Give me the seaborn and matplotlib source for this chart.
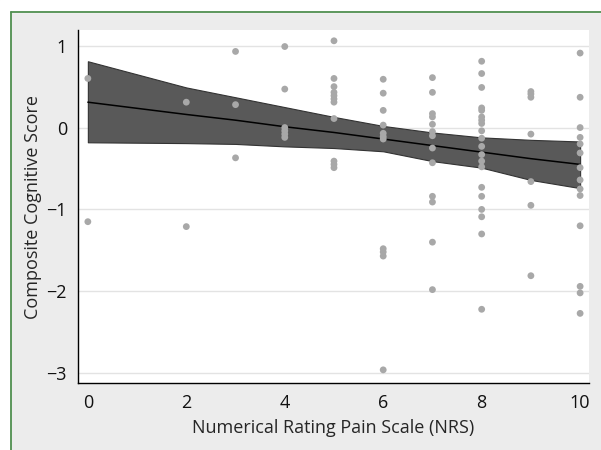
import numpy as np
import pandas as pd
import matplotlib
matplotlib.use("Agg")
import matplotlib.pyplot as plt
from matplotlib.lines import Line2D
import seaborn as sns

# NRS pain score per subject and the composite cognitive score
nrs = ([0] * 2 + [2] * 2 + [3] * 3 + [4] * 6 + [5] * 11 + [6] * 11
       + [7] * 13 + [8] * 20 + [9] * 7 + [10] * 14)
cognitive = [
    0.60, -1.15,
    0.31, -1.21,
    0.93, 0.28, -0.37,
    0.99, 0.47, 0.00, -0.04, -0.08, -0.12,
    1.06, 0.60, 0.50, 0.43, 0.39, 0.35, 0.31, 0.11, -0.41, -0.45, -0.49,
    0.59, 0.42, 0.21, 0.03, -0.07, -0.11, -0.14, -1.48, -1.52, -1.57, -2.96,
    0.61, 0.43, 0.17, 0.13, 0.04, -0.05, -0.10, -0.25, -0.43, -0.84, -0.91, -1.40, -1.98,
    0.81, 0.66, 0.49, 0.24, 0.21, 0.13, 0.09, 0.05, -0.04, -0.13, -0.23, -0.33,
    -0.41, -0.48, -0.73, -0.84, -1.00, -1.09, -1.30, -2.22,
    0.44, 0.41, 0.37, -0.08, -0.66, -0.95, -1.81,
    0.91, 0.37, 0.00, -0.12, -0.20, -0.31, -0.49, -0.64, -0.75, -0.83, -1.20,
    -1.94, -2.02, -2.27,
]

fit_nrs = [0, 2, 3, 4, 5, 6, 7, 8, 9, 10]
fit_score = [0.31, 0.16, 0.09, 0.01, -0.06, -0.14, -0.22, -0.30, -0.38, -0.45]
ci_upper = [0.81, 0.49, 0.37, 0.25, 0.13, 0.02, -0.06, -0.12, -0.15, -0.17]
ci_lower = [-0.18, -0.19, -0.20, -0.23, -0.25, -0.29, -0.41, -0.49, -0.64, -0.74]

x_ticks = [0, 2, 4, 6, 8, 10]
y_ticks = [-3, -2, -1, 0, 1]
y_ticklabels = ["\u22123", "\u22122", "\u22121", "0", "1"]

df = pd.DataFrame({"nrs": nrs, "score": cognitive})
fit = pd.DataFrame({"nrs": fit_nrs, "score": fit_score,
                    "lo": ci_lower, "hi": ci_upper})

sns.set_style("white")
plt.rcParams["font.family"] = ["Open Sans", "DejaVu Sans"]

fig = plt.figure(figsize=(6.01, 4.5), dpi=100, facecolor="#ececec")
ax = fig.add_axes([0.1298, 0.149, 0.8502, 0.784])
ax.set_facecolor("white")

ax.fill_between(fit["nrs"], fit["lo"], fit["hi"], facecolor="#595959",
                edgecolor="#333333", linewidth=0.8, zorder=2)
sns.lineplot(data=fit, x="nrs", y="score", color="black", linewidth=1.1,
             ax=ax, zorder=3)
sns.scatterplot(data=df, x="nrs", y="score", color="#a8a8a8", s=24,
                edgecolor="none", ax=ax, zorder=4)

ax.set_xlim(-0.2, 10.18)
ax.set_ylim(-3.12, 1.19)
ax.set_xticks(x_ticks)
ax.set_yticks(y_ticks)
ax.set_yticklabels(y_ticklabels)
ax.grid(axis="y", color="#e3e3e3", linewidth=1)
ax.set_axisbelow(True)
for side in ["top", "right"]:
    ax.spines[side].set_visible(False)
for side in ["left", "bottom"]:
    ax.spines[side].set_color("black")
    ax.spines[side].set_linewidth(1)
ax.tick_params(axis="both", length=4, width=1, color="black",
               labelsize=13, labelcolor="#111111", pad=4)
ax.set_xlabel("Numerical Rating Pain Scale (NRS)", fontsize=13, labelpad=5)
ax.set_ylabel("Composite Cognitive Score", fontsize=13, labelpad=3)

# white margin and green frame line at top-left
fig.patches.append(plt.Rectangle((0, 1 - 11.5 / 450), 1, 11.5 / 450,
                                 transform=fig.transFigure, color="white",
                                 zorder=0))
fig.patches.append(plt.Rectangle((0, 0), 10.5 / 601, 1,
                                 transform=fig.transFigure, color="white",
                                 zorder=0))
fig.lines.append(Line2D([10.8 / 601, 10.8 / 601], [0, 1 - 11.5 / 450],
                        transform=fig.transFigure, color="#4f8f4f",
                        linewidth=1.3))
fig.lines.append(Line2D([10.8 / 601, 1], [1 - 11.5 / 450, 1 - 11.5 / 450],
                        transform=fig.transFigure, color="#4f8f4f",
                        linewidth=1.3))

fig.savefig("out.png", dpi=100, facecolor=fig.get_facecolor())
